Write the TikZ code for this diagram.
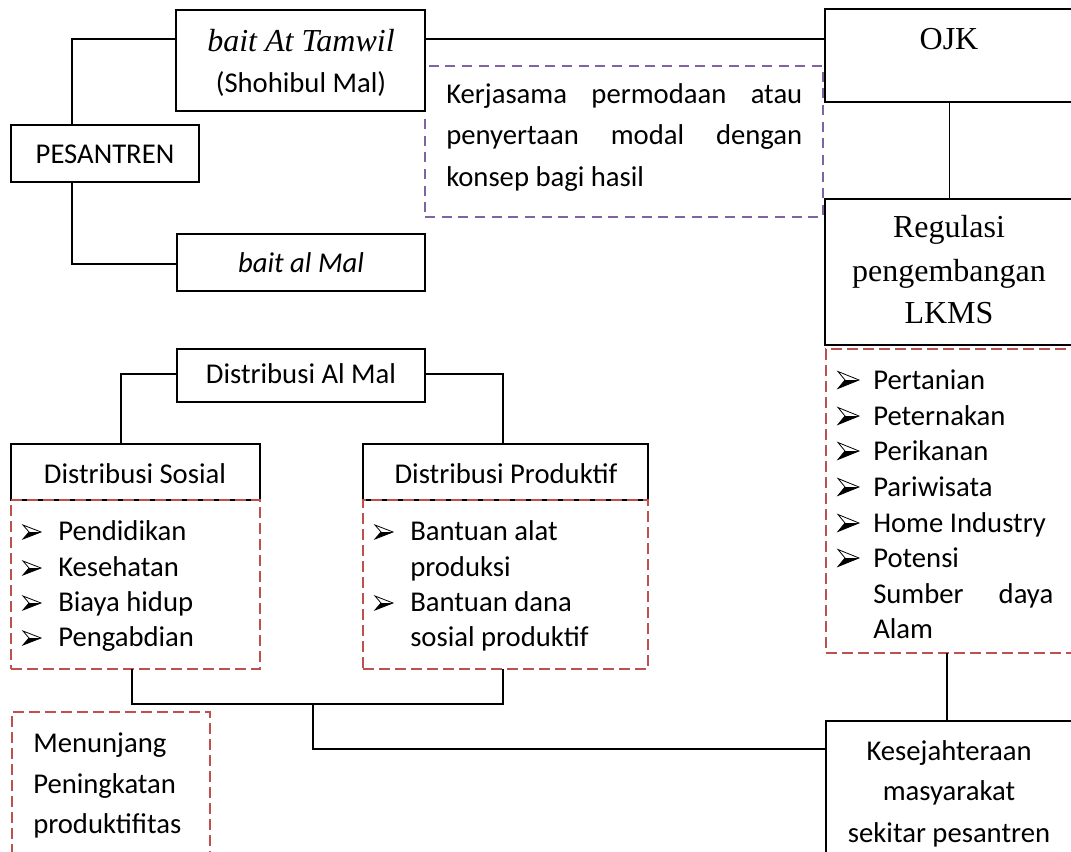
\documentclass[tikz,border=0pt]{standalone}
\usepackage{fontspec}
\setmainfont{Carlito}
\newfontfamily\tnr{Liberation Serif}
\definecolor{dred}{RGB}{192,80,77}
\definecolor{dpurp}{RGB}{128,100,162}
\begin{document}
\begin{tikzpicture}[x=0.75pt,y=-0.75pt,
  box/.style={draw, line width=1.3pt, rectangle, inner sep=0pt, outer sep=0pt, anchor=north west},
  rdash/.style={draw=dred, line width=1.8pt, dash pattern=on 8pt off 4pt, rectangle, inner sep=0pt, outer sep=0pt, anchor=north west},
  pdash/.style={draw=dpurp, line width=1.6pt, dash pattern=on 7.5pt off 5pt, rectangle, inner sep=0pt, outer sep=0pt, anchor=north west},
  conn/.style={line width=1.3pt},
  cal/.style={font=\fontsize{21.5}{26}\selectfont, inner sep=0pt},
  cali/.style={font=\itshape\fontsize{21.5}{26}\selectfont, inner sep=0pt},
  tms/.style={font=\tnr\fontsize{24}{30}\selectfont, inner sep=0pt},
  tmsi/.style={font=\tnr\itshape\fontsize{24}{30}\selectfont, inner sep=0pt},
  bul/.pic={
    \fill[black] (6,0) -- (18,0) -- (0,7) -- cycle;
    \draw[line width=0.6pt, line join=miter] (0,-7) -- (18,0) -- (0,7) -- (6,0) -- cycle;
  },
  bulbig/.pic={
    \fill[black] (7,0) -- (21,0) -- (0,8.5) -- cycle;
    \draw[line width=0.6pt, line join=miter] (0,-8.5) -- (21,0) -- (0,8.5) -- (7,0) -- cycle;
  }
]
\useasboundingbox (0,0) rectangle (1071,852);
\clip (0,0) rectangle (1071,852);

% dashed purple box (behind black boxes)
\node[pdash, minimum width=298.5pt, minimum height=113.25pt] (kerj) at (425,66) {};

% black boxes
\node[box, minimum width=186.75pt, minimum height=75.75pt] (tamwil) at (176,10) {};
\node[box, minimum width=141pt, minimum height=42.75pt] (pesantren) at (11,125) {};
\node[box, minimum width=186pt, minimum height=42.75pt] (almal) at (177,234) {};
\node[box, minimum width=186.75pt, minimum height=69.75pt] (ojk) at (825,9) {};
\node[box, minimum width=186.75pt, minimum height=109.5pt] (regulasi) at (825,199) {};
\node[box, minimum width=186pt, minimum height=120pt] (kes) at (826,721) {};
\node[box, minimum width=186pt, minimum height=39.75pt] (distmal) at (177,349) {};
\node[box, minimum width=186.75pt, minimum height=42pt] (dsosial) at (11,444) {};
\node[box, minimum width=213.75pt, minimum height=42pt] (dprod) at (363,444) {};

% red dashed boxes
\node[rdash, minimum width=186pt, minimum height=228pt] (redR) at (826,349) {};
\node[rdash, minimum width=186.75pt, minimum height=126.75pt] (redS) at (11,500) {};
\node[rdash, minimum width=213.75pt, minimum height=126.75pt] (redP) at (363,500) {};
\node[rdash, minimum width=148.5pt, minimum height=120pt] (menunjang) at (12,712) {};

% connectors
\coordinate (j1) at (313,704);
\draw[conn] (pesantren.north -| 72,0) |- (tamwil.west |- 0,39);
\draw[conn] (pesantren.south -| 72,0) |- (almal.west |- 0,264);
\draw[conn] (tamwil.east |- 0,39) -- (ojk.west |- 0,39);
\draw[conn] (ojk.south) -- (regulasi.north);
\draw[conn] (redR.south -| 947,0) -- (kes.north -| 947,0);
\draw[conn] (distmal.west |- 0,374) -| (dsosial.north -| 121,0);
\draw[conn] (distmal.east |- 0,374) -| (dprod.north -| 503,0);
\draw[conn] (redS.south -| 132,0) |- (j1) -| (redP.south -| 503,0);
\draw[conn] (j1) |- (kes.west |- 0,749);

% texts
\node[tmsi, anchor=base] (tTam) at (301,52) {bait At Tamwil};
\node[cal, anchor=base] (tSho) at (301,93) {(Shohibul Mal)};
\node[cal, anchor=base] (tPes) at (105,164) {PESANTREN};
\node[cali, anchor=base] (tMal) at (301,273) {bait al Mal};
\node[tms, anchor=base] (tOjk) at (949,50) {OJK};

\node[cal, anchor=base west] (k1) at (446,104) {\hbox to 267pt{Kerjasama\hfill permodaan\hfill atau}};
\node[cal, anchor=base west] (k2) at (446,145) {\hbox to 267pt{penyertaan\hfill modal\hfill dengan}};
\node[cal, anchor=base west] (k3) at (446,187) {konsep bagi hasil};

\node[tms, anchor=base] (r1) at (949,238) {Regulasi};
\node[tms, anchor=base] (r2) at (949,282) {pengembangan};
\node[tms, anchor=base] (r3) at (949,324) {LKMS};

\node[cal, anchor=base west] (p1) at (873,389) {Pertanian};
\node[cal, anchor=base west] (p2) at (873,425) {Peternakan};
\node[cal, anchor=base west] (p3) at (873,460) {Perikanan};
\node[cal, anchor=base west] (p4) at (873,496) {Pariwisata};
\node[cal, anchor=base west] (p5) at (873,532) {Home Industry};
\node[cal, anchor=base west] (p6) at (873,567) {Potensi};
\node[cal, anchor=base west] (p7) at (873,603) {\hbox to 135pt{Sumber\hfill daya}};
\node[cal, anchor=base west] (p8) at (873,638) {Alam};
\foreach \b in {389,425,460,496,532,567} \pic at (838,\b-9) {bulbig};

\node[cal, anchor=base] (tDm) at (301,383) {Distribusi Al Mal};
\node[cal, anchor=base] (tDs) at (135,483) {Distribusi Sosial};
\node[cal, anchor=base] (tDp) at (506,483) {Distribusi Produktif};

\node[cal, anchor=base west] (s1) at (58,540) {Pendidikan};
\node[cal, anchor=base west] (s2) at (58,576) {Kesehatan};
\node[cal, anchor=base west] (s3) at (58,611) {Biaya hidup};
\node[cal, anchor=base west] (s4) at (58,646) {Pengabdian};
\foreach \b in {540,576,611,646} \pic at (23,\b-8) {bul};

\node[cal, anchor=base west] (q1) at (410,540) {Bantuan alat};
\node[cal, anchor=base west] (q2) at (410,576) {produksi};
\node[cal, anchor=base west] (q3) at (410,611) {Bantuan dana};
\node[cal, anchor=base west] (q4) at (410,646) {sosial produktif};
\foreach \b in {540,611} \pic at (375,\b-8) {bul};

\node[cal, anchor=base west] (m1) at (33,752) {Menunjang};
\node[cal, anchor=base west] (m2) at (33,793) {Peningkatan};
\node[cal, anchor=base west] (m3) at (33,833) {produktifitas};

\node[cal, anchor=base] (e1) at (949,760) {Kesejahteraan};
\node[cal, anchor=base] (e2) at (949,800) {masyarakat};
\node[cal, anchor=base] (e3) at (949,842) {sekitar pesantren};
\end{tikzpicture}
\end{document}
